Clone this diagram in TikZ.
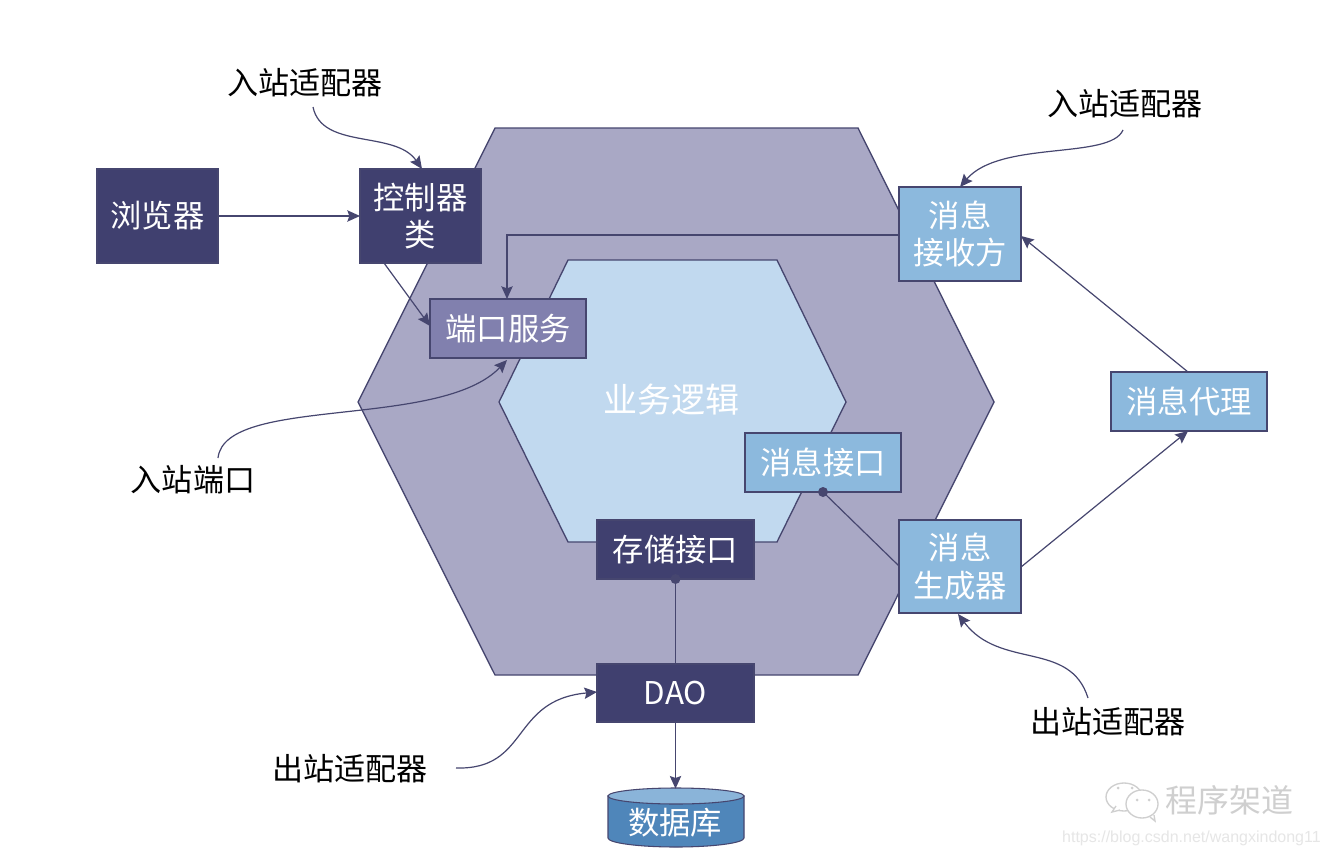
\documentclass[tikz,border=0pt]{standalone}
\usepackage{fontspec}
\setmainfont{Noto Sans CJK SC}
\newfontfamily\urlfont{Liberation Sans}
\usetikzlibrary{arrows.meta,calc}
\definecolor{darkbox}{HTML}{40406F}
\definecolor{outerhex}{HTML}{A9A8C5}
\definecolor{innerhex}{HTML}{C1D9EF}
\definecolor{portbox}{HTML}{8180AE}
\definecolor{lightbox}{HTML}{8CB9DD}
\definecolor{edgeline}{HTML}{46466F}
\definecolor{dbbody}{HTML}{4F86BA}
\definecolor{dbtop}{HTML}{8AB4D9}
\definecolor{wmark}{HTML}{CFCFCF}
\definecolor{urlgrey}{HTML}{E6E6E6}
\tikzset{
  box/.style n args={3}{draw=edgeline,line width=1pt,fill=#3,minimum width=#1*0.75pt,minimum height=#2*0.75pt,
    inner sep=0pt,outer sep=0pt,text=white,align=center,font=\fontsize{23.5}{28}\selectfont},
  conn/.style={draw=edgeline,line width=0.9pt},
  arr/.style={conn,-{Stealth[length=9.5pt,width=8.5pt,inset=1.5pt]}},
  callout/.style={font=\fontsize{23.3}{28}\selectfont,text=black,inner sep=0pt},
  hex/.style={draw=edgeline,line width=1pt},
  dotend/.style={circle,fill=edgeline,minimum size=7.5pt,inner sep=0pt},
  wm/.style={draw=wmark,line width=1pt,fill=white},
}
\begin{document}
\begin{tikzpicture}[x=0.75pt,y=-0.75pt]
\useasboundingbox (0,0) rectangle (1328,856);
\fill[white] (0,0) rectangle (1328,856);
% hexagons
\draw[hex,fill=outerhex] (358,402)--(495,128)--(858,128)--(994,402)--(858,675)--(495,675)--cycle;
\draw[hex,fill=innerhex] (499,402)--(568,260)--(777,260)--(846,402)--(777,542)--(568,542)--cycle;
\node[text=white,font=\fontsize{25.5}{31}\selectfont,inner sep=0pt] (biz) at (671,400) {业务逻辑};
% boxes
\node[box={121}{94}{darkbox}] (browser) at (157.5,216) {浏览器};
\node[box={121}{94}{darkbox}] (ctrl) at (420.5,216) {控制器\\类};
\node[box={122}{94}{lightbox}] (recv) at (960,234) {消息\\接收方};
\node[box={156}{59}{portbox}] (port) at (508,328.5) {端口服务};
\node[box={156}{59}{lightbox}] (msgif) at (823,462.5) {消息接口};
\node[box={157}{59}{darkbox}] (store) at (675.5,549.5) {存储接口};
\node[box={122}{93}{lightbox}] (gen) at (960,566.5) {消息\\生成器};
\node[box={156}{59}{lightbox}] (broker) at (1189,401.5) {消息代理};
\node[box={157}{58}{darkbox}] (dao) at (675.5,693) {DAO};
% database
\draw[hex,fill=dbbody,line width=0.8pt] (608,796) -- (608,838) arc[start angle=180,end angle=0,x radius=68,y radius=9] -- (744,796) -- cycle;
\draw[hex,fill=dbtop,line width=0.8pt] (676,796) ellipse[x radius=68,y radius=8];
\node[minimum width=102pt,minimum height=44pt,inner sep=0pt,outer sep=0pt] (dbshape) at (675.5,818) {};
\node[text=white,font=\fontsize{23.5}{31}\selectfont,inner sep=0pt] (db) at (675,823) {数据库};
% callouts
\node[callout] (in1) at (305,83) {入站适配器};
\node[callout] (in2) at (1125,104) {入站适配器};
\node[callout] (in3) at (193,480) {入站端口};
\node[callout] (out1) at (350,769) {出站适配器};
\node[callout] (out2) at (1108,722) {出站适配器};
% straight connectors
\draw[arr] (browser.east) -- (ctrl.west);
\coordinate (c1) at (384,263); \coordinate (c2) at (430,326);
\draw[arr] (c1) -- (c2);
\coordinate (r1) at (899,235); \coordinate (p1) at (507,235); \coordinate (p2) at (507,299);
\draw[arr] (r1) -- (p1) -- (p2);
\coordinate (b1) at (1188,372); \coordinate (r2) at (1021,236);
\draw[arr] (b1) -- (r2);
\coordinate (g1) at (1021,567); \coordinate (b2) at (1188,431);
\draw[arr] (g1) -- (b2);
\coordinate (g2) at (899,566); \coordinate (m1) at (823,492);
\draw[conn] (g2) -- (m1);
\node[dotend] (mdot) at (m1) {};
\coordinate (s1) at (675.5,579); 
\draw[conn] (s1) -- (dao.north);
\node[dotend] (sdot) at (s1) {};
\draw[arr] (dao.south) -- (dbshape.north);
% curved connectors
\coordinate (k1) at (313,107); \coordinate (k2) at (422,169);
\draw[arr] (k1) .. controls (322,150) and (395,130) .. (k2);
\coordinate (k3) at (1123,130); \coordinate (k4) at (960,187);
\draw[arr] (k3) .. controls (1110,160) and (1000,140) .. (k4);
\coordinate (k5) at (218,458); \coordinate (k6) at (507,360);
\draw[arr] (k5) .. controls (225,395) and (440,430) .. (k6);
\coordinate (k7) at (456,768); \coordinate (k8) at (597,692);
\draw[arr] (k7) .. controls (530,770) and (510,700) .. (k8);
\coordinate (k9) at (1088,698); \coordinate (k10) at (958,614);
\draw[arr] (k9) .. controls (1070,640) and (1000,670) .. (k10);
% watermark
\draw[wm] (1124,797) ellipse[x radius=18,y radius=14];
\draw[wm] (1120,810) -- (1112,812) -- (1116,806);
\draw[wm] (1142,804) ellipse[x radius=16,y radius=14];
\draw[wmark,line width=1pt] (1150,817) -- (1155,821) -- (1154,815);
\fill[wmark] (1118,788) circle[radius=1.5] (1132,788) circle[radius=1.5] (1137,800) circle[radius=1.5] (1149,800) circle[radius=1.5];
\node[text=wmark,font=\fontsize{24}{30}\selectfont,inner sep=0pt] (wmtext) at (1229,800) {程序架道};
\node[text=urlgrey,font=\urlfont\fontsize{12}{14}\selectfont,inner sep=0pt,anchor=east] (wmurl) at (1321,838) {https://blog.csdn.net/wangxindong11};
\end{tikzpicture}
\end{document}
